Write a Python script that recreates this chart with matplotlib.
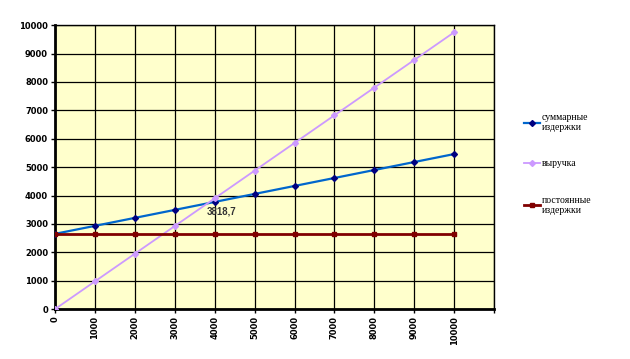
import numpy as np
import matplotlib
matplotlib.use('Agg')
import matplotlib.pyplot as plt

categories = ['0', '1000', '2000', '3000', '4000', '5000', '6000', '7000', '8000', '9000', '10000']
total_costs = [2650, 2931, 3212, 3493, 3774, 4055, 4336, 4617, 4898, 5179, 5460]
revenue = [0, 975, 1950, 2925, 3900, 4875, 5850, 6825, 7800, 8775, 9750]
fixed_costs = [2650] * 11
breakeven_label = '3818,7'

fig = plt.figure(figsize=(6.3, 3.59), dpi=100)
ax = fig.add_axes([0.0873, 0.139, 0.697, 0.791])
ax.set_facecolor('#FFFFCC')

x = np.arange(len(categories))
ax.plot(x, total_costs, color='#0066CC', lw=1.6, marker='D', ms=3,
        mfc='#000080', mec='#000080', label='суммарные\nиздержки', zorder=3)
ax.plot(x, revenue, color='#CC99FF', lw=1.3, marker='D', ms=3,
        mfc='#CC99FF', mec='#CC99FF', label='выручка', zorder=3)
ax.plot(x, fixed_costs, color='#800000', lw=2, marker='s', ms=3.3,
        mfc='#800000', mec='#800000', label='постоянные\nиздержки', zorder=3)

ax.annotate(breakeven_label, (4, total_costs[4]), xytext=(-6, -3),
            textcoords='offset points', fontsize=7, fontweight='bold',
            color='#333333', ha='left', va='top', family='Liberation Sans')

ax.set_xlim(0, 11)
ax.set_ylim(0, 10000)
ax.set_xticks(np.arange(12))
ax.set_xticklabels(categories + [''], rotation=90, fontsize=6, fontweight='bold')
ax.set_yticks(np.arange(0, 10001, 1000))
ax.set_yticklabels([str(v) for v in range(0, 10001, 1000)], fontsize=6, fontweight='bold')
ax.grid(True, color='black', lw=0.9)
ax.set_axisbelow(True)
for s in ax.spines.values():
    s.set_color('black')
    s.set_linewidth(1)
ax.spines['left'].set_linewidth(2)
ax.spines['bottom'].set_linewidth(2)
ax.tick_params(length=3, width=1, pad=2)

ax.legend(loc='upper left', bbox_to_anchor=(1.06, 0.705), frameon=False,
          prop={'family': 'Liberation Serif', 'size': 7}, handlelength=1.6,
          handletextpad=0.15, labelspacing=2.8, borderaxespad=0)

plt.savefig('out.png', dpi=100)
